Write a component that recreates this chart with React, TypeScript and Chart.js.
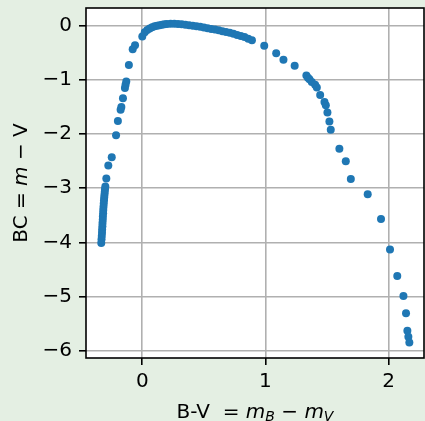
import React, { useEffect, useRef } from "react";
import { Chart, registerables } from "chart.js";

Chart.register(...registerables);

// B-V colour index values
const bvValues: number[] = [
  -0.333, -0.331, -0.329, -0.327, -0.326, -0.324, -0.323, -0.321, -0.32, -0.318,
  -0.317, -0.315, -0.313, -0.311, -0.309, -0.307, -0.305, -0.303, -0.3,
  -0.292, -0.276, -0.248, -0.213, -0.198, -0.176, -0.17, -0.157, -0.141, -0.136,
  -0.13, -0.109, -0.078, -0.059,
  0.0, 0.02, 0.04, 0.06, 0.08, 0.1, 0.12, 0.14, 0.16, 0.18, 0.2, 0.23, 0.26, 0.29,
  0.32, 0.35, 0.38, 0.41, 0.44, 0.47, 0.5, 0.53, 0.56, 0.59, 0.62, 0.65, 0.68, 0.71,
  0.74, 0.77, 0.8, 0.83, 0.86, 0.89,
  0.99, 1.087, 1.146, 1.237, 1.332, 1.345, 1.357, 1.376, 1.403, 1.417, 1.444, 1.479,
  1.49, 1.503, 1.519, 1.53, 1.6, 1.652, 1.693, 1.83, 1.938, 2.011, 2.07, 2.12, 2.141,
  2.152, 2.16, 2.168,
];

// Bolometric correction values
const bcValues: number[] = [
  -4.01, -3.94, -3.88, -3.82, -3.76, -3.7, -3.64, -3.58, -3.52, -3.46,
  -3.4, -3.34, -3.28, -3.22, -3.17, -3.12, -3.07, -3.02, -2.97,
  -2.82, -2.58, -2.43, -2.02, -1.76, -1.55, -1.5, -1.34, -1.15, -1.09,
  -1.03, -0.725, -0.435, -0.36,
  -0.2, -0.12, -0.08, -0.05, -0.03, -0.01, 0.0, 0.01, 0.02, 0.025, 0.03, 0.035, 0.035, 0.03,
  0.025, 0.02, 0.01, 0.0, -0.01, -0.02, -0.035, -0.045, -0.06, -0.07, -0.085, -0.1, -0.115, -0.13,
  -0.15, -0.17, -0.19, -0.21, -0.24, -0.27,
  -0.37, -0.51, -0.63, -0.74, -0.92, -0.96, -0.99, -1.04, -1.09, -1.14, -1.28, -1.41,
  -1.47, -1.6, -1.77, -1.92, -2.27, -2.5, -2.83, -3.11, -3.57, -4.13, -4.62, -4.99, -5.31,
  -5.63, -5.74, -5.85,
];

const xTicks: number[] = [0, 1, 2];
const yTicks: number[] = [-6, -5, -4, -3, -2, -1, 0];

const FONT = "'DejaVu Sans', sans-serif";

type Seg = { t: string; italic?: boolean; sub?: boolean };

const xTitle: Seg[] = [
  { t: "B-V" },
  { t: "  = " },
  { t: "m", italic: true },
  { t: "B", italic: true, sub: true },
  { t: " \u2212 " },
  { t: "m", italic: true },
  { t: "V", italic: true, sub: true },
];

const yTitle: Seg[] = [
  { t: "BC = " },
  { t: "m", italic: true },
  { t: " \u2212 V" },
];

function segFont(s: Seg) {
  const size = s.sub ? 14 : 20;
  return `${s.italic ? "italic " : ""}${size}px ${FONT}`;
}

function drawRich(ctx: CanvasRenderingContext2D, segs: Seg[]) {
  let total = 0;
  const widths = segs.map((s) => {
    ctx.font = segFont(s);
    const w = ctx.measureText(s.t).width;
    total += w;
    return w;
  });
  let x = -total / 2;
  ctx.textBaseline = "alphabetic";
  ctx.textAlign = "left";
  segs.forEach((s, i) => {
    ctx.font = segFont(s);
    ctx.fillText(s.t, x, s.sub ? 3.5 : 0);
    x += widths[i];
  });
}

const framePlugin = {
  id: "frameAndTitles",
  beforeDraw(chart: any) {
    const { ctx, chartArea: a } = chart;
    ctx.save();
    ctx.fillStyle = "#ffffff";
    ctx.fillRect(a.left, a.top, a.right - a.left, a.bottom - a.top);
    ctx.restore();
  },
  afterDraw(chart: any) {
    const { ctx, chartArea: a } = chart;
    ctx.save();
    ctx.strokeStyle = "#000";
    ctx.lineWidth = 1.6;
    ctx.strokeRect(a.left, a.top, a.right - a.left, a.bottom - a.top);
    ctx.fillStyle = "#000";
    ctx.save();
    ctx.translate((a.left + a.right) / 2, a.bottom + 59.5);
    drawRich(ctx, xTitle);
    ctx.restore();
    ctx.save();
    ctx.translate(a.left - 59, (a.top + a.bottom) / 2);
    ctx.rotate(-Math.PI / 2);
    drawRich(ctx, yTitle);
    ctx.restore();
    ctx.restore();
  },
};

export default function App() {
  const ref = useRef<HTMLCanvasElement | null>(null);

  useEffect(() => {
    if (!ref.current) return;
    const points = bvValues.map((x, i) => ({ x, y: bcValues[i] }));
    const chart = new Chart(ref.current, {
      type: "scatter",
      data: {
        datasets: [
          {
            data: points,
            backgroundColor: "#1f77b4",
            borderWidth: 0,
            pointRadius: 4,
            pointHoverRadius: 4,
          },
        ],
      },
      options: {
        responsive: false,
        animation: false,
        events: [],
        layout: { autoPadding: false, padding: { top: 8, right: 1, left: 0, bottom: 0 } },
        plugins: { legend: { display: false }, tooltip: { enabled: false } },
        scales: {
          x: {
            type: "linear",
            min: -0.457,
            max: 2.287,
            afterFit: (s: any) => {
              s.height = 63;
              s.paddingLeft = 0;
              s.paddingRight = 0;
            },
            afterBuildTicks: (s: any) => {
              s.ticks = xTicks.map((v) => ({ value: v }));
            },
            border: { display: false },
            grid: {
              color: "#b0b0b0",
              lineWidth: 1.6,
              tickColor: "#000",
              tickWidth: 1.6,
              tickLength: 7,
            },
            ticks: {
              autoSkip: false,
              maxRotation: 0,
              padding: 5,
              color: "#000",
              font: { family: FONT, size: 20 },
              callback: (v: any) => String(v),
            },
          },
          y: {
            type: "linear",
            min: -6.134,
            max: 0.327,
            afterFit: (s: any) => {
              s.width = 86;
              s.paddingTop = 0;
              s.paddingBottom = 0;
            },
            afterBuildTicks: (s: any) => {
              s.ticks = yTicks.map((v) => ({ value: v }));
            },
            border: { display: false },
            grid: {
              color: "#b0b0b0",
              lineWidth: 1.6,
              tickColor: "#000",
              tickWidth: 1.6,
              tickLength: 7,
            },
            ticks: {
              autoSkip: false,
              padding: 7,
              color: "#000",
              font: { family: FONT, size: 20 },
              callback: (v: any) =>
                Number(v) < 0 ? "\u2212" + Math.abs(Number(v)) : String(v),
            },
          },
        },
      },
      plugins: [framePlugin],
    });
    return () => chart.destroy();
  }, []);

  return (
    <div
      style={{
        position: "fixed",
        left: 0,
        top: 0,
        width: 425,
        height: 421,
        background: "#e4efe3",
        overflow: "hidden",
      }}
    >
      <canvas ref={ref} width={425} height={421} style={{ display: "block" }} />
    </div>
  );
}
